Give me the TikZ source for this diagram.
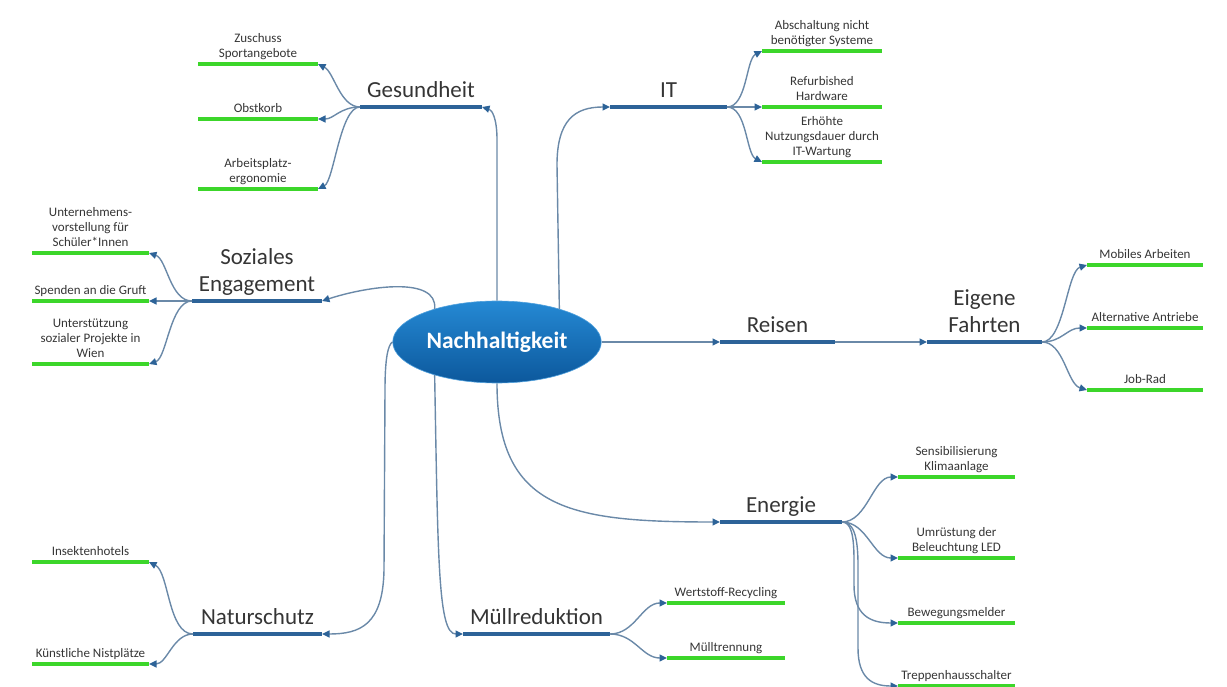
\documentclass[tikz,border=0pt]{standalone}
\usepackage{fontspec}
\setmainfont{Carlito}
\usetikzlibrary{arrows.meta,shapes.geometric}
\definecolor{mainblue}{HTML}{2D6398}
\definecolor{connc}{HTML}{6A89A8}
\definecolor{leafgreen}{HTML}{3CD62A}
\definecolor{txt}{HTML}{353535}
\definecolor{ellTop}{HTML}{2589D4}
\definecolor{ellBot}{HTML}{0C589C}
\newcommand\mkleaf[5]{%
  \coordinate (#1L) at (#2,#4);
  \coordinate (#1R) at (#3,#4);
  \draw[leafline] (#1L) -- (#1R);
  \node[leaf] (#1T) at ({(#2+#3)/2},{#4-6}) {#5};
}
\newcommand\mktopic[5]{%
  \coordinate (#1L) at (#2,#4);
  \coordinate (#1R) at (#3,#4);
  \draw[mainline] (#1L) -- (#1R);
  \node[topic] (#1T) at ({(#2+#3)/2},{#4-9.5}) {#5};
}
\begin{document}
\begin{tikzpicture}[x=1pt,y=-1pt,
  mainline/.style={draw=mainblue, line width=3.6pt},
  leafline/.style={draw=leafgreen, line width=3.6pt},
  conn/.style={draw=connc, line width=1.4pt, -{Triangle[length=7.5pt,width=7pt,color=mainblue]}},
  topic/.style={font=\fontsize{23}{27}\selectfont, text=txt, align=center, anchor=south, inner sep=0pt, text depth=0pt},
  leaf/.style={font=\fontsize{13}{15}\selectfont, text=txt, align=center, anchor=south, inner sep=0pt, text depth=0pt},
  hub/.style={ellipse, minimum width=188pt, minimum height=82pt, top color=ellTop, bottom color=ellBot, draw=ellTop!80!white, line width=0.6pt, text=white, font=\fontsize{23.5}{26}\selectfont\bfseries}
]
\useasboundingbox (0,0) rectangle (1227,687);

% centre
\node[hub] (hub) at (497,342) {Nachhaltigkeit};

% topics
\mktopic{ges}{360}{482}{107}{Gesundheit}
\mktopic{it}{610}{727}{107}{IT}
\mktopic{soz}{192}{322}{301}{Soziales\\Engagement}
\mktopic{reis}{720}{835}{342}{Reisen}
\mktopic{ef}{927}{1042}{342}{Eigene\\Fahrten}
\mktopic{en}{720}{842}{522}{Energie}
\mktopic{mu}{463}{610}{634}{Müllreduktion}
\mktopic{na}{193}{322}{634}{Naturschutz}

% leaves
\mkleaf{ga}{198}{318}{64}{Zuschuss\\Sportangebote}
\mkleaf{gb}{198}{318}{119}{Obstkorb}
\mkleaf{gc}{198}{318}{189}{Arbeitsplatz-\\ergonomie}
\mkleaf{ia}{762}{882}{51}{Abschaltung nicht\\benötigter Systeme}
\mkleaf{ib}{762}{882}{107}{Refurbished\\Hardware}
\mkleaf{ic}{762}{882}{162}{Erhöhte\\Nutzungsdauer durch\\IT-Wartung}
\mkleaf{sa}{32}{149}{253}{Unternehmens-\\vorstellung für\\Schüler*Innen}
\mkleaf{sb}{32}{149}{301}{Spenden an die Gruft}
\mkleaf{sc}{32}{149}{364}{Unterstützung\\sozialer Projekte in\\Wien}
\mkleaf{fa}{1087}{1203}{265}{Mobiles Arbeiten}
\mkleaf{fb}{1087}{1203}{328}{Alternative Antriebe}
\mkleaf{fc}{1087}{1203}{390}{Job-Rad}
\mkleaf{ea}{898}{1015}{477}{Sensibilisierung\\Klimaanlage}
\mkleaf{eb}{898}{1015}{558}{Umrüstung der\\Beleuchtung LED}
\mkleaf{ec}{898}{1015}{623}{Bewegungsmelder}
\mkleaf{ed}{898}{1015}{686}{Treppenhausschalter}
\mkleaf{ma}{667}{785}{603}{Wertstoff-Recycling}
\mkleaf{mb}{667}{785}{658}{Mülltrennung}
\mkleaf{nb}{32}{149}{562}{Insektenhotels}
\mkleaf{nc}{32}{149}{664}{Künstliche Nistplätze}

% connectors from the centre
\draw[conn] (hub.north) -- (497,140) .. controls (497,118) and (492,110) .. (gesR);
\draw[conn] (hub.28) -- (557,165) .. controls (557,120) and (575,107) .. (itL);
\draw[conn] (hub.152) .. controls (438,276) and (368,286) .. (sozR);
\draw[conn] (hub.east) -- (reisL);
\draw[conn] (reisR) -- (efL);
\draw[conn] (hub.south) .. controls (497,510) and (570,522) .. (enL);
\draw[conn] (hub.208) .. controls (438,560) and (438,634) .. (muL);
\draw[conn] (hub.west) .. controls (388,345) and (385,358) .. (385,390) -- (384,570) .. controls (383,625) and (360,634) .. (naR);

% Gesundheit fan
\draw[conn] (gesL) .. controls +(-20,0) and +(16,8) .. (gaR);
\draw[conn] (gesL) .. controls +(-20,0) and +(16,0) .. (gbR);
\draw[conn] (gesL) .. controls +(-20,0) and +(16,-8) .. (gcR);
% IT fan
\draw[conn] (itR) .. controls +(20,0) and +(-16,8) .. (iaL);
\draw[conn] (itR) -- (ibL);
\draw[conn] (itR) .. controls +(20,0) and +(-16,-8) .. (icL);
% Soziales fan
\draw[conn] (sozL) .. controls +(-22,0) and +(18,6) .. (saR);
\draw[conn] (sozL) -- (sbR);
\draw[conn] (sozL) .. controls +(-22,0) and +(18,-6) .. (scR);
% Eigene Fahrten fan
\draw[conn] (efR) .. controls +(22,0) and +(-20,6) .. (faL);
\draw[conn] (efR) .. controls +(20,0) and +(-20,0) .. (fbL);
\draw[conn] (efR) .. controls +(22,0) and +(-20,-6) .. (fcL);
% Energie fan
\draw[conn] (enR) .. controls +(25,0) and +(-25,0) .. (eaL);
\draw[conn] (enR) .. controls +(25,0) and +(-25,0) .. (ebL);
\draw[conn] (enR) .. controls (851,522) and (854,535) .. (854,560) -- (854,585) .. controls (854,615) and (870,623) .. (ecL);
\draw[conn] (enR) .. controls (853,522) and (858,535) .. (858,565) -- (858,648) .. controls (858,678) and (872,686) .. (edL);
% Muell fan
\draw[conn] (muR) .. controls +(25,0) and +(-25,0) .. (maL);
\draw[conn] (muR) .. controls +(25,0) and +(-25,0) .. (mbL);
% Naturschutz fan
\draw[conn] (naL) .. controls +(-25,0) and +(20,10) .. (nbR);
\draw[conn] (naL) .. controls +(-20,0) and +(18,0) .. (ncR);
\end{tikzpicture}
\end{document}
